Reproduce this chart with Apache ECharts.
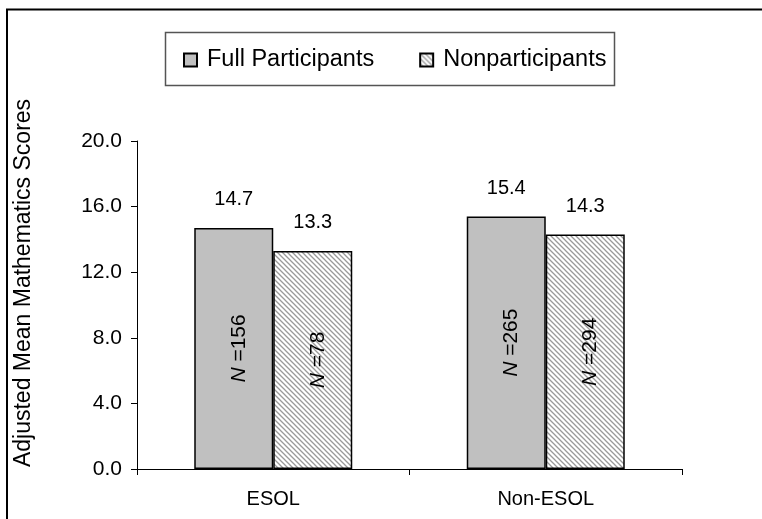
<!DOCTYPE html>
<html>
<head>
<meta charset="utf-8">
<script src="https://cdn.jsdelivr.net/npm/echarts@6/dist/echarts.min.js"></script>
<style>
html,body{margin:0;padding:0;background:#fff;}
#chart{width:762px;height:519px;}
</style>
</head>
<body>
<div id="chart"></div>
<script>
var categories = ['ESOL', 'Non-ESOL'];
var seriesNames = ['Full Participants', 'Nonparticipants'];
var fullValues = [14.7, 15.4];
var nonValues = [13.3, 14.3];
var fullN = [156, 265];
var nonN = [78, 294];
var yTicks = [0, 4, 8, 12, 16, 20];

var FONT = '"Liberation Sans", Arial, sans-serif';

function makeHatch() {
  var c = document.createElement('canvas');
  c.width = 5; c.height = 5;
  var g = c.getContext('2d');
  g.fillStyle = '#ffffff';
  g.fillRect(0, 0, 5, 5);
  g.strokeStyle = '#999999';
  g.lineWidth = 1.3;
  g.beginPath();
  g.moveTo(-1, -1); g.lineTo(6, 6);
  g.moveTo(-1, 4); g.lineTo(2, 7);
  g.moveTo(4, -1); g.lineTo(7, 2);
  g.stroke();
  return c;
}
var hatch = {image: makeHatch(), repeat: 'repeat'};

var chart = echarts.init(document.getElementById('chart'), null, {renderer: 'canvas'});

var barW = 79;
function nLabelSeries(name, vals, ns) {
  return {
    name: name + ' N',
    type: 'bar',
    xAxisIndex: 1,
    barWidth: barW,
    barGap: '0%',
    silent: true,
    data: vals.map(function (v, i) {
      return {value: v, n: ns[i]};
    }),
    itemStyle: {color: 'rgba(0,0,0,0)'},
    label: {
      show: true,
      position: 'inside',
      offset: [0, 5],
      rotate: 90,
      formatter: function (p) { return '{i|N} =' + p.data.n; },
      color: '#000',
      fontFamily: FONT,
      fontSize: 21,
      rich: {i: {fontStyle: 'italic', fontFamily: FONT, fontSize: 21, color: '#000'}}
    },
    z: 5
  };
}

var option = {
  animation: false,
  backgroundColor: '#ffffff',
  textStyle: {fontFamily: FONT, color: '#000'},
  graphic: [
    {type: 'rect', shape: {x: 7, y: 9.5, width: 800, height: 600},
     style: {fill: 'none', stroke: '#000', lineWidth: 2}, z: -10},
    {type: 'rect', shape: {x: 165.5, y: 32.5, width: 449, height: 53},
     style: {fill: '#fff', stroke: '#555', lineWidth: 1.5}, z: -5}
  ],
  legend: {
    data: seriesNames,
    left: 178,
    top: 43,
    itemWidth: 13,
    itemHeight: 13,
    itemGap: 45,
    icon: 'rect',
    textStyle: {fontFamily: FONT, fontSize: 23.5, color: '#000', padding: [0, 0, 0, 5]}
  },
  grid: {left: 137, right: 80, top: 141, bottom: 50, containLabel: false},
  xAxis: [
    {
      type: 'category',
      data: categories,
      axisLine: {lineStyle: {color: '#000', width: 1}},
      axisTick: {show: true, length: 6, lineStyle: {color: '#000'}},
      axisLabel: {color: '#000', fontFamily: FONT, fontSize: 20, margin: 20}
    },
    {
      type: 'category',
      data: categories,
      show: false,
      position: 'bottom'
    }
  ],
  yAxis: {
    type: 'value',
    min: 0,
    max: 20,
    interval: 4,
    name: 'Adjusted Mean Mathematics Scores',
    nameLocation: 'middle',
    nameRotate: 90,
    nameGap: 102,
    nameTextStyle: {fontFamily: FONT, fontSize: 23, color: '#000', padding: [0, 0, 0, 44]},
    axisLine: {show: true, lineStyle: {color: '#000', width: 1}},
    axisTick: {show: true, length: 6, lineStyle: {color: '#000'}},
    splitLine: {show: false},
    axisLabel: {
      color: '#000', fontFamily: FONT, fontSize: 21, margin: 15,
      formatter: function (v) { return yTicks.indexOf(v) >= 0 ? v.toFixed(1) : ''; }
    }
  },
  series: [
    {
      name: seriesNames[0],
      type: 'bar',
      barWidth: barW,
      barGap: '0%',
      data: fullValues,
      itemStyle: {color: '#c0c0c0', borderColor: '#000', borderWidth: 1.5},
      label: {show: true, position: 'top', distance: 18, color: '#000',
        fontFamily: FONT, fontSize: 20, formatter: function (p) { return p.value.toFixed(1); }}
    },
    {
      name: seriesNames[1],
      type: 'bar',
      barWidth: barW,
      barGap: '0%',
      data: nonValues,
      itemStyle: {color: hatch, borderColor: '#000', borderWidth: 1.5},
      label: {show: true, position: 'top', distance: 18, color: '#000',
        fontFamily: FONT, fontSize: 20, formatter: function (p) { return p.value.toFixed(1); }}
    },
    nLabelSeries(seriesNames[0], fullValues, fullN),
    nLabelSeries(seriesNames[1], nonValues, nonN)
  ]
};
chart.setOption(option);
</script>
</body>
</html>
